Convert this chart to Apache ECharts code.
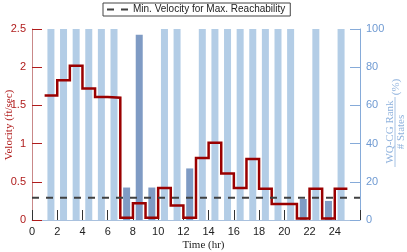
<!DOCTYPE html>
<html>
<head>
<meta charset="utf-8">
<script src="https://cdn.jsdelivr.net/npm/echarts@6/dist/echarts.min.js"></script>
<style>
html,body{margin:0;padding:0;background:#fff;}
#chart{width:407px;height:252px;}
</style>
</head>
<body>
<div id="chart"></div>
<script>
// ---- data ----
const hours = [1,2,3,4,5,6,7,8,9,10,11,12,13,14,15,16,17,18,19,20,21,22,23,24];
const velocity = [1.63,1.83,2.02,1.72,1.61,1.60,0.03,0.22,0.03,0.42,0.19,0.03,0.81,1.01,0.61,0.42,0.80,0.41,0.21,0.21,0.02,0.41,0.02,0.41];
const rankPct = [100,100,100,100,100,100,17,97,17,100,100,27,100,100,100,100,100,100,100,100,11,100,10,100];
const minVelocity = 0.29;
const xTicks = [0,2,4,6,8,10,12,14,16,18,20,22,24];
const leftTicks = [0,0.5,1,1.5,2,2.5];
const rightTicks = [0,20,40,60,80,100];
const legendLabel = 'Min. Velocity for Max. Reachability';

// ---- styles ----
const RED = '#9a0000';
const RED_LABEL = '#b01c1c';
const BLUE_AXIS = '#86abd9';
const LIGHT_BAR = '#b3cde6';
const DARK_BAR = '#7f9bc4';
const SANS = '"Liberation Sans", Arial, sans-serif';
const SERIF = '"Liberation Serif", "Times New Roman", serif';

const xMax = 26;

const stepData = hours.map((h, i) => [h, velocity[i]]);
stepData.push([hours[hours.length - 1] + 1, velocity[velocity.length - 1]]);

const barData = hours.map((h, i) => ({
  value: [h + 0.5, rankPct[i]],
  itemStyle: { color: rankPct[i] < 100 ? DARK_BAR : LIGHT_BAR }
}));

const chart = echarts.init(document.getElementById('chart'), null, { renderer: 'canvas' });

chart.setOption({
  animation: false,
  backgroundColor: '#fff',
  grid: { left: 32, right: 47, top: 29, bottom: 32, containLabel: false },
  legend: {
    data: [{ name: legendLabel, icon: 'path://M0,0 h7 v2 h-7 Z M14,0 h7 v2 h-7 Z' }],
    left: 103, top: 3,
    padding: [1, 5, 1, 4],
    itemWidth: 21, itemHeight: 2, itemGap: 4,
    borderColor: '#444', borderWidth: 1, backgroundColor: '#fff',
    textStyle: { fontFamily: SANS, fontSize: 10, color: '#222', lineHeight: 11 }
  },
  xAxis: {
    type: 'value', min: 0, max: xMax, interval: 2,
    axisLine: { show: true, lineStyle: { color: '#a9c1de', width: 1 } },
    axisTick: { show: true, inside: true, length: 10, lineStyle: { color: '#333', width: 1 } },
    axisLabel: {
      fontFamily: SANS, fontSize: 11, color: '#222', margin: 6,
      formatter: v => (xTicks.indexOf(v) >= 0 ? String(v) : '')
    },
    splitLine: { show: false }
  },
  yAxis: [
    {
      type: 'value', min: 0, max: 2.5, interval: 0.5, position: 'left',
      axisLine: { show: true, lineStyle: { color: '#c98888', width: 1 } },
      axisTick: { show: true, inside: true, length: 10, lineStyle: { color: RED_LABEL, width: 1 } },
      axisLabel: {
        fontFamily: SANS, fontSize: 11, color: RED_LABEL, margin: 6,
        formatter: v => (leftTicks.indexOf(v) >= 0 ? String(v) : '')
      },
      splitLine: { show: false }
    },
    {
      type: 'value', min: 0, max: 100, interval: 20, position: 'right',
      axisLine: { show: true, lineStyle: { color: BLUE_AXIS, width: 1 } },
      axisTick: { show: true, inside: true, length: 10, lineStyle: { color: BLUE_AXIS, width: 1 } },
      axisLabel: {
        fontFamily: SANS, fontSize: 11, color: '#6f9ad2', margin: 6,
        formatter: v => (rightTicks.indexOf(v) >= 0 ? String(v) : '')
      },
      splitLine: { show: false }
    }
  ],
  series: [
    {
      name: 'rank', type: 'bar', yAxisIndex: 1, barWidth: 7,
      data: barData, z: 2, silent: true
    },
    {
      name: 'velocity', type: 'line', yAxisIndex: 0, step: 'end',
      data: stepData, symbol: 'none', showSymbol: false, z: 3,
      lineStyle: { color: RED, width: 2.5, join: 'miter' }
    },
    {
      name: legendLabel, type: 'line', yAxisIndex: 0,
      data: [[0, minVelocity], [xMax, minVelocity]],
      symbol: 'none', showSymbol: false, z: 4,
      itemStyle: { color: '#404040' },
      lineStyle: { color: '#404040', width: 2, type: [7, 7] }
    }
  ],
  graphic: [
    {
      type: 'text', left: 'center', top: 240,
      style: { text: 'Time (hr)', fontFamily: SERIF, fontSize: 11, fill: '#222' }
    },
    {
      type: 'text', x: 9, y: 125, rotation: Math.PI / 2,
      style: { text: 'Velocity (ft/sec)', fontFamily: SERIF, fontSize: 11, fill: RED_LABEL,
               align: 'center', verticalAlign: 'middle' }
    },
    {
      type: 'group', x: 395, y: 132, rotation: Math.PI / 2,
      children: [
        { type: 'text', x: 0, y: -5,
          style: { text: 'WQ-CG Rank', fontFamily: SERIF, fontSize: 11, fill: '#8fb2dd', align: 'center', verticalAlign: 'middle' } },
        { type: 'line', shape: { x1: -35, y1: 0, x2: 35, y2: 0 },
          style: { stroke: '#8fb2dd', lineWidth: 0.8 } },
        { type: 'text', x: 0, y: 6,
          style: { text: '# States', fontFamily: SERIF, fontSize: 11, fill: '#8fb2dd', align: 'center', verticalAlign: 'middle' } },
        { type: 'text', x: 45, y: 1,
          style: { text: '(%)', fontFamily: SERIF, fontSize: 11, fill: '#8fb2dd', align: 'center', verticalAlign: 'middle' } }
      ]
    }
  ]
});
</script>
</body>
</html>
